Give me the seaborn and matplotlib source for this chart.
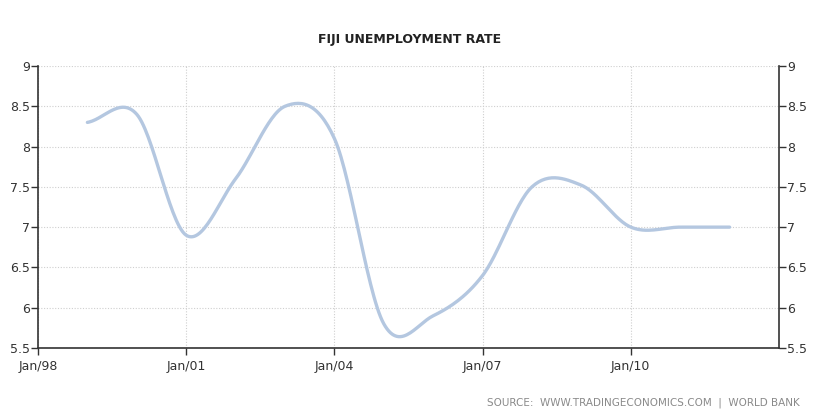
import numpy as np
import pandas as pd
import matplotlib
matplotlib.use("Agg")
import matplotlib.pyplot as plt
import seaborn as sns

# annual unemployment rate
years = [1999, 2000, 2001, 2002, 2003, 2004, 2005, 2006, 2007, 2008, 2009, 2010, 2011, 2012]
rate = [8.3, 8.4, 6.9, 7.6, 8.5, 8.1, 5.8, 5.9, 6.4, 7.5, 7.52, 7.0, 7.0, 7.0]
tick_years = [1998, 2001, 2004, 2007, 2010]
tick_labels = ["Jan/98", "Jan/01", "Jan/04", "Jan/07", "Jan/10"]
y_ticks = [5.5, 6, 6.5, 7, 7.5, 8, 8.5, 9]


def smooth(x, y, n=30):
    # catmull-rom style spline so the line looks like the original
    x = np.asarray(x, float)
    y = np.asarray(y, float)
    m = np.gradient(y, x, edge_order=1)
    m[1:-1] = (y[2:] - y[:-2]) / (x[2:] - x[:-2])
    xs, ys = [], []
    for i in range(len(x) - 1):
        h = x[i + 1] - x[i]
        t = np.linspace(0, 1, n, endpoint=False)
        h00 = 2 * t**3 - 3 * t**2 + 1
        h10 = t**3 - 2 * t**2 + t
        h01 = -2 * t**3 + 3 * t**2
        h11 = t**3 - t**2
        xs.append(x[i] + t * h)
        ys.append(h00 * y[i] + h10 * h * m[i] + h01 * y[i + 1] + h11 * h * m[i + 1])
    xs.append([x[-1]])
    ys.append([y[-1]])
    return np.concatenate(xs), np.concatenate(ys)


sx, sy = smooth(years, rate)
df = pd.DataFrame({"year": sx, "rate": sy})

sns.set_style("white")
plt.rcParams["font.family"] = ["DejaVu Sans"]

fig = plt.figure(figsize=(8.24, 4.13), dpi=100)
ax = fig.add_axes([0.0461, 0.1574, 0.8993, 0.6828])

sns.lineplot(data=df, x="year", y="rate", ax=ax, color="#b4c7e0", linewidth=2.4, sort=False)

ax.set_xlim(1998, 2013)
ax.set_ylim(5.5, 9)
ax.set_xticks(tick_years)
ax.set_xticklabels(tick_labels)
ax.set_yticks(y_ticks)
ax.set_yticklabels([f"{v:g}" for v in y_ticks])
ax.set_xlabel("")
ax.set_ylabel("")

ax.grid(True, color="#cfcfcf", linestyle=(0, (1, 1.5)), linewidth=0.8)
ax.set_axisbelow(True)

ax.spines["top"].set_visible(False)
for side in ["left", "right", "bottom"]:
    ax.spines[side].set_visible(True)
    ax.spines[side].set_color("#333333")
    ax.spines[side].set_linewidth(1.2)

ax.tick_params(axis="both", which="both", direction="out", length=5, width=1,
               color="#333333", labelsize=9, labelcolor="#333333")
ax.tick_params(axis="y", left=True, right=True, labelleft=True, labelright=True, pad=1)
ax.tick_params(axis="x", bottom=True, pad=4)

fig.text(0.4975, 0.905, "FIJI UNEMPLOYMENT RATE", ha="center", va="center",
         fontsize=9, fontweight="bold", color="#222222")
fig.text(0.97, 0.025, "SOURCE:  WWW.TRADINGECONOMICS.COM  |  WORLD BANK", ha="right",
         va="center", fontsize=7.5, color="#8a8a8a")

fig.savefig("out.png", dpi=100)
